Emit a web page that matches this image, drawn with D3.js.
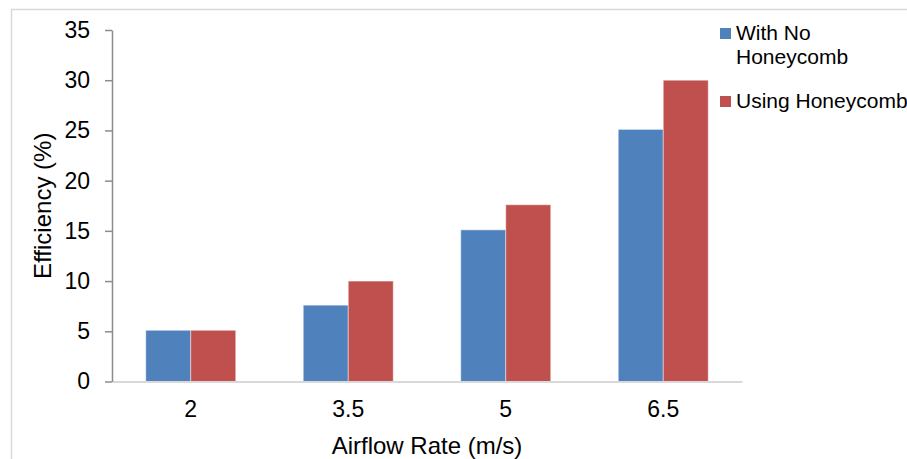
<!DOCTYPE html>
<html>
<head>
<meta charset="utf-8">
<script src="https://cdn.jsdelivr.net/npm/d3@7"></script>
<style>
  body { margin: 0; background: #fff; overflow: hidden; }
  svg { display: block; font-family: "Liberation Sans", Arial, sans-serif; }
</style>
</head>
<body>
<div class="chart"></div>
<script>
var width = 907, height = 459;

var categories = ['2', '3.5', '5', '6.5'];
var seriesNames = ['With No Honeycomb', 'Using Honeycomb'];
var noHoneycomb = [5.1, 7.6, 15.1, 25.1];
var withHoneycomb = [5.1, 10, 17.6, 30];
var yTicks = [0, 5, 10, 15, 20, 25, 30, 35];
var colors = ['#4f81bd', '#c0504d'];

var data = categories.map(function(c, i) {
  return {cat: c, values: [noHoneycomb[i], withHoneycomb[i]]};
});

var svg = d3.select('.chart').append('svg')
  .attr('width', width)
  .attr('height', height);

// outer chart frame
svg.append('rect')
  .attr('x', 11.5).attr('y', 9.5)
  .attr('width', width + 20).attr('height', height + 20)
  .attr('fill', 'none')
  .attr('stroke', '#d9d9d9')
  .attr('stroke-width', 1.5);

var x0 = d3.scaleBand()
  .domain(categories)
  .range([112, 742])
  .paddingInner(0.4286)
  .paddingOuter(0.2143);

var x1 = d3.scaleBand()
  .domain([0, 1])
  .range([0, x0.bandwidth()]);

var y = d3.scaleLinear()
  .domain([0, 35])
  .range([381.5, 30]);

// bars
var groups = svg.selectAll('.group').data(data)
  .enter().append('g')
  .attr('class', 'group')
  .attr('transform', function(d) { return 'translate(' + x0(d.cat) + ',0)'; });

groups.selectAll('rect')
  .data(function(d) { return d.values; })
  .enter().append('rect')
  .attr('x', function(d, i) { return x1(i); })
  .attr('y', function(d) { return y(d); })
  .attr('width', x1.bandwidth())
  .attr('height', function(d) { return y(0) - y(d); })
  .attr('fill', function(d, i) { return colors[i]; })
  .attr('stroke', 'rgba(255,255,255,0.45)')
  .attr('stroke-width', 1);

// x axis
var xAxis = svg.append('g')
  .attr('transform', 'translate(0,' + y(0) + ')')
  .call(d3.axisBottom(x0).tickSize(0).tickPadding(19));
xAxis.select('.domain').attr('stroke', '#d9d9d9').attr('stroke-width', 2);
xAxis.selectAll('text')
  .attr('font-size', 23)
  .attr('fill', '#000')
  .attr('font-family', '"Liberation Sans", Arial, sans-serif');

// y axis
var yAxis = svg.append('g')
  .attr('transform', 'translate(112,0)')
  .call(d3.axisLeft(y).tickValues(yTicks).tickSize(7).tickSizeOuter(0).tickPadding(15));
yAxis.select('.domain').attr('stroke', '#8c8c8c').attr('stroke-width', 1.5);
yAxis.selectAll('.tick line').attr('stroke', '#8c8c8c').attr('stroke-width', 1.5);
yAxis.selectAll('text')
  .attr('font-size', 23)
  .attr('fill', '#000')
  .attr('font-family', '"Liberation Sans", Arial, sans-serif');

// axis titles
svg.append('text')
  .attr('x', 427).attr('y', 454)
  .attr('text-anchor', 'middle')
  .attr('font-size', 24)
  .text('Airflow Rate (m/s)');

svg.append('text')
  .attr('transform', 'translate(51,' + y(17.5) + ') rotate(-90)')
  .attr('text-anchor', 'middle')
  .attr('font-size', 24)
  .text('Efficiency (%)');

// legend
var legend = svg.append('g').attr('transform', 'translate(720,0)');
var legendLines = [['With No', 'Honeycomb'], ['Using Honeycomb']];
var legendY = [28, 96];

seriesNames.forEach(function(name, i) {
  legend.append('rect')
    .attr('x', 0).attr('y', legendY[i])
    .attr('width', 11).attr('height', 11)
    .attr('fill', colors[i]);
  var t = legend.append('text')
    .attr('x', 16).attr('y', legendY[i] + 12)
    .attr('font-size', 21);
  legendLines[i].forEach(function(line, j) {
    t.append('tspan')
      .attr('x', 16)
      .attr('dy', j === 0 ? 0 : 24)
      .text(line);
  });
});
</script>
</body>
</html>
